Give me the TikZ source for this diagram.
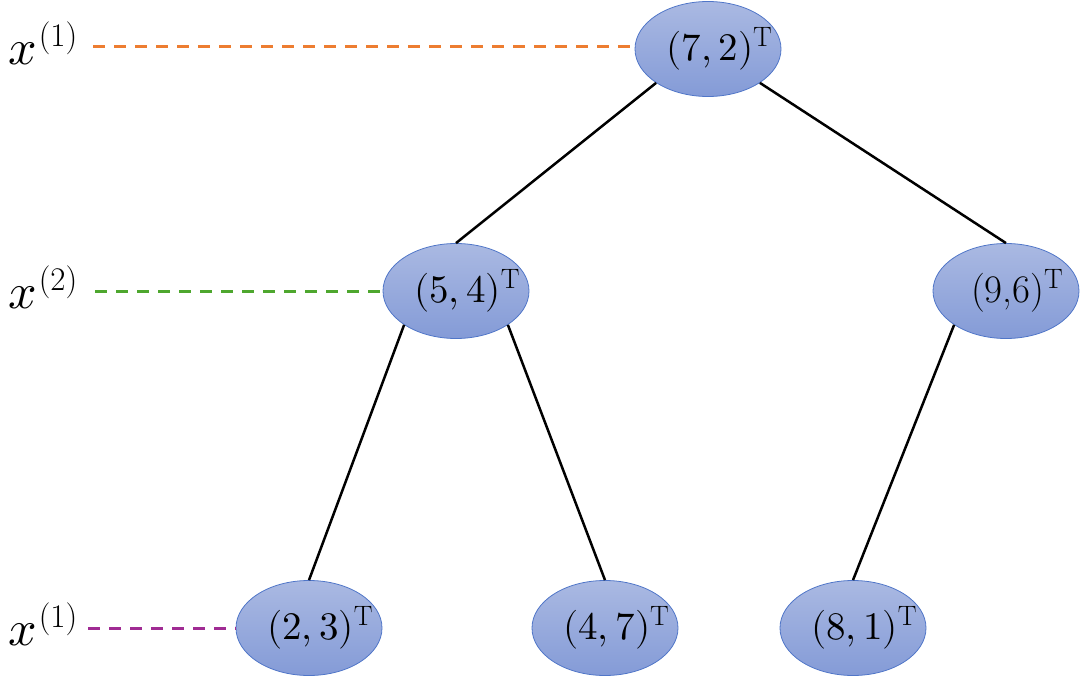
\documentclass[tikz,border=0pt]{standalone}
\usepackage{unicode-math}
\usetikzlibrary{shapes.geometric}
\definecolor{nodetop}{RGB}{170,185,226}
\definecolor{nodebot}{RGB}{132,155,215}
\definecolor{nodeborder}{RGB}{80,118,200}
\definecolor{dorange}{RGB}{237,125,49}
\definecolor{dgreen}{RGB}{78,167,46}
\definecolor{dpurple}{RGB}{160,43,147}
\newcommand{\kdtext}[1]{\makebox[0pt]{\hspace*{22pt}#1\raisebox{14pt}{\fontsize{28}{28}\selectfont T}}}
\newcommand{\lvltext}[1]{$x$\hspace{2pt}\raisebox{18pt}{\fontsize{33}{33}\selectfont(#1)}}
\begin{document}
\begin{tikzpicture}[x=1pt,y=-1pt,
  kd/.style={ellipse, draw=nodeborder, line width=0.8pt, top color=nodetop, bottom color=nodebot,
    minimum width=146pt, minimum height=95pt, inner sep=0pt, font=\fontsize{39}{42}\selectfont},
  edge/.style={black, line width=2.5pt},
  lvl/.style={font=\fontsize{50}{52}\selectfont, anchor=base west, inner sep=0pt},
  dline/.style={line width=3pt, dash pattern=on 12pt off 9pt}]
\useasboundingbox (0,0) rectangle (1080,677);
\node[kd] (r) at (708,49) {\kdtext{$(7,2)$}};
\node[kd] (a) at (456,291) {\kdtext{$(5,4)$}};
\node[kd] (b) at (1006,291) {\kdtext{(9,6)}};
\node[kd] (c) at (309,628) {\kdtext{$(2,3)$}};
\node[kd] (d) at (605,628) {\kdtext{$(4,7)$}};
\node[kd] (e) at (853,628) {\kdtext{$(8,1)$}};
\draw[edge] (r.south west) -- (a.north);
\draw[edge] (r.south east) -- (b.north);
\draw[edge] (a.south west) -- (c.north);
\draw[edge] (a.south east) -- (d.north);
\draw[edge] (b.south west) -- (e.north);
\node[lvl] (l1) at (8,65) {\lvltext{1}};
\node[lvl] (l2) at (8,308) {\lvltext{2}};
\node[lvl] (l3) at (8,645) {\lvltext{1}};
\coordinate (s1) at (93,47);
\coordinate (s2) at (95,291);
\coordinate (s3) at (88,628);
\draw[dline, dorange] (s1) -- (s1 -| r.west);
\draw[dline, dgreen] (s2) -- (a.west);
\draw[dline, dpurple] (s3) -- (c.west);
\end{tikzpicture}
\end{document}
